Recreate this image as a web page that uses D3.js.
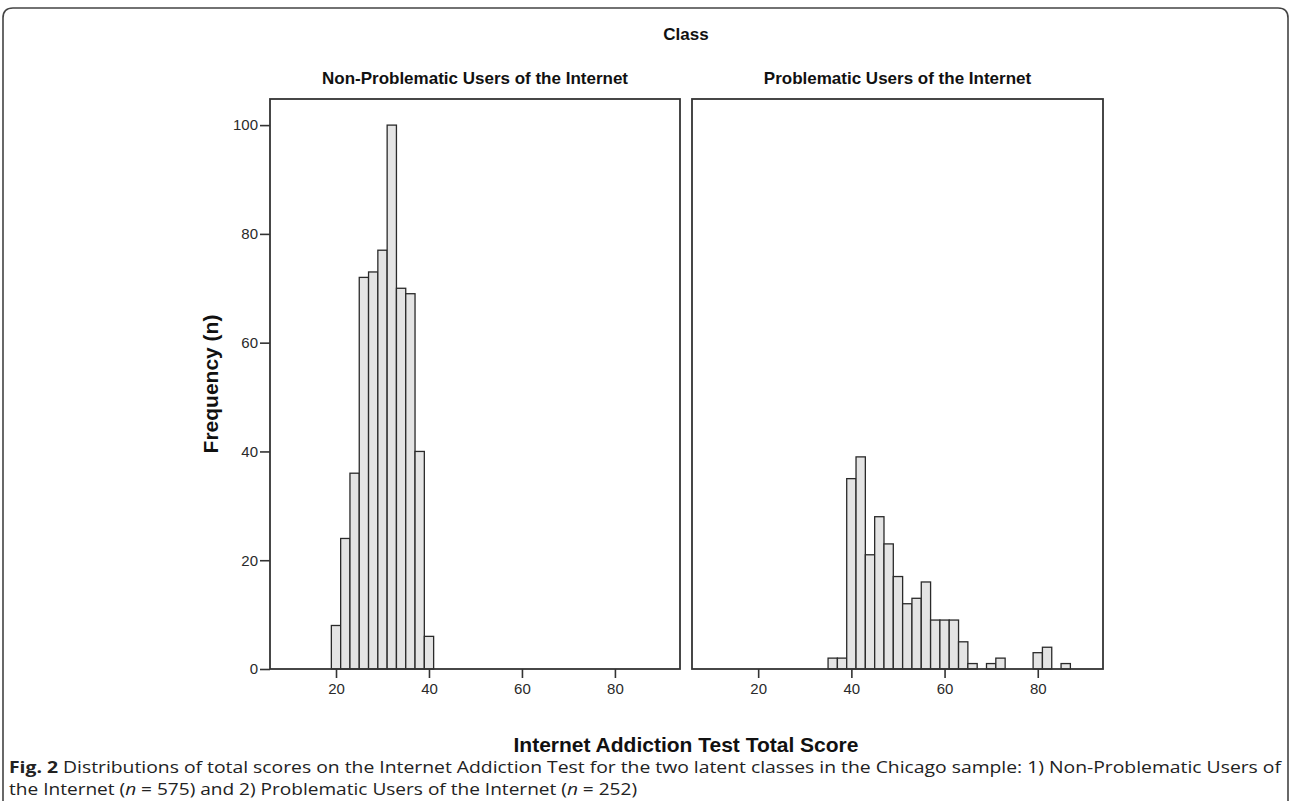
<!DOCTYPE html>
<html>
<head>
<meta charset="utf-8">
<script src="https://cdn.jsdelivr.net/npm/d3@7"></script>
<style>
  html, body { margin: 0; padding: 0; background: #fff; }
  svg { display: block; }
</style>
</head>
<body>
<svg id="chart" width="1290" height="801"></svg>
<script>
// ---- Data ----
const panelTitles = ["Non-Problematic Users of the Internet", "Problematic Users of the Internet"];
const binWidth = 2;
const nonProblematicCenters = [20, 22, 24, 26, 28, 30, 32, 34, 36, 38, 40];
const nonProblematicCounts  = [8, 24, 36, 72, 73, 77, 100, 70, 69, 40, 6];
const problematicCenters = [36, 38, 40, 42, 44, 46, 48, 50, 52, 54, 56, 58, 60, 62, 64, 66, 68, 70, 72, 74, 76, 78, 80, 82, 84, 86];
const problematicCounts  = [2, 2, 35, 39, 21, 28, 23, 17, 12, 13, 16, 9, 9, 9, 5, 1, 0, 1, 2, 0, 0, 0, 3, 4, 0, 1];
const xTicks = [20, 40, 60, 80];
const yTicks = [0, 20, 40, 60, 80, 100];

const svg = d3.select("#chart");
const sans = "'Liberation Sans', Arial, sans-serif";

// outer rounded frame
svg.append("path")
  .attr("d", "M3,820 L3,18 Q3,8 13,8 L1278,8 Q1288,8 1288,18 L1288,820")
  .attr("fill", "none").attr("stroke", "#444").attr("stroke-width", 1.6);

const panels = [
  { x0: 270, x1: 680, centers: nonProblematicCenters, counts: nonProblematicCounts, yAxis: true },
  { x0: 692, x1: 1103, centers: problematicCenters, counts: problematicCounts, yAxis: false }
];
const yTop = 99, yBot = 669;
const y = d3.scaleLinear().domain([0, 104.8]).range([yBot, yTop]);

panels.forEach((p, i) => {
  const x = d3.scaleLinear().domain([5.8, 94]).range([p.x0, p.x1]);
  const g = svg.append("g");
  const data = p.centers.map((c, j) => ({ c, n: p.counts[j] })).filter(d => d.n > 0);

  g.selectAll("rect.bar").data(data).enter().append("rect")
    .attr("class", "bar")
    .attr("x", d => x(d.c - binWidth / 2))
    .attr("width", d => x(d.c + binWidth / 2) - x(d.c - binWidth / 2))
    .attr("y", d => y(d.n))
    .attr("height", d => y(0) - y(d.n))
    .attr("fill", "#e4e4e4")
    .attr("stroke", "#2a2a2a")
    .attr("stroke-width", 1.3);

  // frame
  g.append("rect")
    .attr("x", p.x0).attr("y", yTop)
    .attr("width", p.x1 - p.x0).attr("height", yBot - yTop)
    .attr("fill", "none").attr("stroke", "#333").attr("stroke-width", 1.8);

  // x axis
  const xAxis = d3.axisBottom(x).tickValues(xTicks).tickSize(9).tickPadding(5).tickFormat(d3.format("d"));
  const xa = g.append("g").attr("transform", `translate(0,${yBot})`).call(xAxis);
  xa.attr("font-size", null).attr("font-family", null);
  xa.select(".domain").remove();
  xa.selectAll(".tick line").attr("stroke", "#333").attr("stroke-width", 1.6);
  xa.selectAll(".tick text").attr("fill", "#2a2a2a")
    .style("font-family", sans).style("font-size", "15px");

  if (p.yAxis) {
    const yAxis = d3.axisLeft(y).tickValues(yTicks).tickSize(10).tickPadding(2).tickFormat(d3.format("d"));
    const ya = g.append("g").attr("transform", `translate(${p.x0},0)`).call(yAxis);
    ya.attr("font-size", null).attr("font-family", null);
    ya.select(".domain").remove();
    ya.selectAll(".tick line").attr("stroke", "#333").attr("stroke-width", 1.6);
    ya.selectAll(".tick text").attr("fill", "#2a2a2a")
      .style("font-family", sans).style("font-size", "15px");
  }

  // panel title
  svg.append("text")
    .attr("x", (p.x0 + p.x1) / 2).attr("y", 84)
    .attr("text-anchor", "middle")
    .style("font-family", sans)
    .style("font-weight", "bold").style("font-size", "17px").attr("fill", "#111")
    .text(panelTitles[i]);
});

// "Class" header
svg.append("text")
  .attr("x", 686).attr("y", 40).attr("text-anchor", "middle")
  .style("font-family", sans)
  .style("font-weight", "bold").style("font-size", "17px").attr("fill", "#111")
  .text("Class");

// y label
svg.append("text")
  .attr("transform", "translate(218,384) rotate(-90)")
  .attr("text-anchor", "middle")
  .style("font-family", sans)
  .style("font-weight", "bold").style("font-size", "21px").attr("fill", "#111")
  .text("Frequency (n)");

// x label
svg.append("text")
  .attr("x", 686).attr("y", 752).attr("text-anchor", "middle")
  .style("font-family", sans)
  .style("font-weight", "bold").style("font-size", "21px").attr("fill", "#111")
  .text("Internet Addiction Test Total Score");

// caption
const capFont = "'Open Sans', 'Noto Sans', sans-serif";
const l1 = svg.append("text").attr("x", 9).attr("y", 773)
  .style("font-family", capFont).style("font-size", "16px").attr("fill", "#222")
  .attr("textLength", 1272).attr("lengthAdjust", "spacingAndGlyphs");
l1.append("tspan").style("font-weight", "bold").text("Fig. 2");
l1.append("tspan").text(" Distributions of total scores on the Internet Addiction Test for the two latent classes in the Chicago sample: 1) Non-Problematic Users of");

const l2 = svg.append("text").attr("x", 9).attr("y", 795)
  .style("font-family", capFont).style("font-size", "16px").attr("fill", "#222")
  .attr("textLength", 628).attr("lengthAdjust", "spacingAndGlyphs");
l2.append("tspan").text("the Internet (");
l2.append("tspan").style("font-style", "italic").text("n");
l2.append("tspan").text(" = 575) and 2) Problematic Users of the Internet (");
l2.append("tspan").style("font-style", "italic").text("n");
l2.append("tspan").text(" = 252)");
</script>
</body>
</html>
